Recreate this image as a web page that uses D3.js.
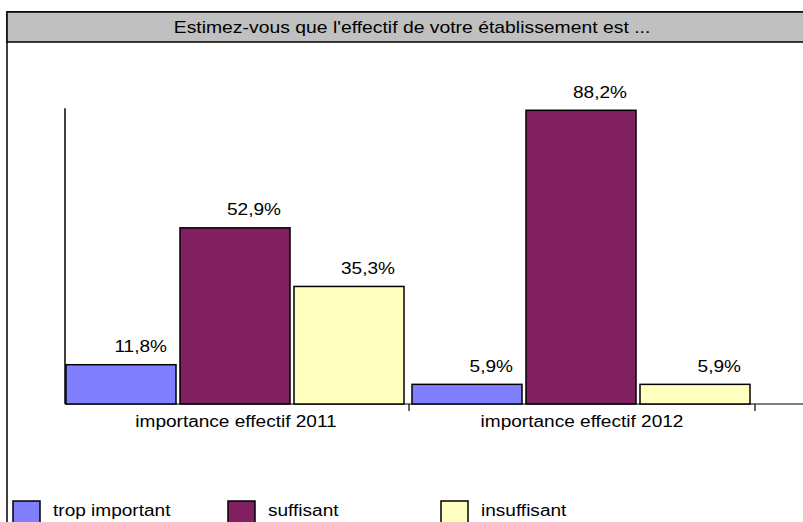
<!DOCTYPE html>
<html><head><meta charset="utf-8">
<script src="https://cdn.jsdelivr.net/npm/d3@7"></script>
<style>body{margin:0;background:#fff}svg{display:block}text{font-family:"Liberation Sans",Arial,sans-serif;fill:#000}</style>
</head><body><svg id="c" width="803" height="522"></svg>
<script>
const title = "Estimez-vous que l'effectif de votre établissement est ...";
const categories = ["importance effectif 2011", "importance effectif 2012"];
const seriesNames = ["trop important", "suffisant", "insuffisant"];
const seriesColors = ["#8080ff", "#802060", "#ffffc0"];
const values2011 = [11.8, 52.9, 35.3];
const values2012 = [5.9, 88.2, 5.9];
const valueLabels2011 = ["11,8%", "52,9%", "35,3%"];
const valueLabels2012 = ["5,9%", "88,2%", "5,9%"];

const data = categories.map((c, i) => ({
  cat: c,
  vals: (i === 0 ? values2011 : values2012).map((v, j) => ({
    s: seriesNames[j], v, label: (i === 0 ? valueLabels2011 : valueLabels2012)[j]
  }))
}));

const svg = d3.select("#c");
const W = 803, H = 522;
let SX = 1.19;
function placeText(sel, fx, fy) {
  const sx = SX;
  sel.attr("x", 0).attr("y", 0)
    .attr("transform", (d, i) => `translate(${fx(d, i)},${fy(d, i)}) scale(${sx},1)`);
}

// frame + title band
svg.append("rect").attr("x", 7).attr("y", 12).attr("width", W + 20).attr("height", H + 20)
  .attr("fill", "#fff").attr("stroke", "#000").attr("stroke-width", 1.5);
svg.append("rect").attr("x", 7).attr("y", 12).attr("width", W + 20).attr("height", 30)
  .attr("fill", "#c0c0c0").attr("stroke", "#000").attr("stroke-width", 1.5);
SX = 1.21;
svg.append("text").attr("text-anchor", "middle").attr("font-size", 16).text(title)
  .call(placeText, () => 412, () => 33);
SX = 1.19;

// scales
const x0 = d3.scaleBand().domain(categories).range([63, 755]);
const x1 = d3.scaleBand().domain(seriesNames).range([3, 345]);
const y = d3.scaleLinear().domain([0, 100]).range([404, 71]);
const color = d3.scaleOrdinal().domain(seriesNames).range(seriesColors);
const barW = x1.bandwidth() - 4;

// axes lines
svg.append("line").attr("x1", 65).attr("x2", 65).attr("y1", y(88.8)).attr("y2", y(0))
  .attr("stroke", "#000").attr("stroke-width", 1.5);
svg.append("line").attr("x1", 65).attr("x2", W).attr("y1", y(0)).attr("y2", y(0))
  .attr("stroke", "#000").attr("stroke-width", 1.2);
const tickXs = categories.map(c => x0(c) + x0.bandwidth());
svg.selectAll("line.tick").data(tickXs).join("line")
  .attr("x1", d => d).attr("x2", d => d).attr("y1", y(0)).attr("y2", y(0) + 7)
  .attr("stroke", "#000").attr("stroke-width", 1.2);

const gw = x0.bandwidth();
const groups = svg.selectAll("g.grp").data(data).join("g")
  .attr("transform", d => `translate(${x0(d.cat)},0)`);
groups.selectAll("rect").data(d => d.vals).join("rect")
  .attr("x", d => x1(d.s)).attr("width", barW)
  .attr("y", d => y(d.v)).attr("height", d => y(0) - y(d.v))
  .attr("fill", d => color(d.s)).attr("stroke", "#000").attr("stroke-width", 1.5);
groups.selectAll("text.val").data(d => d.vals).join("text")
  .attr("text-anchor", "end").attr("font-size", 16).text(d => d.label)
  .call(placeText, d => x1(d.s) + barW - 9, d => y(d.v) - 12.5);

// category labels
svg.selectAll("text.cat").data(categories).join("text")
  .attr("text-anchor", "middle").attr("font-size", 16).text(d => d)
  .call(placeText, d => x0(d) + gw / 2, () => 427);

// legend
const legX = [13, 228, 441];
const lg = svg.selectAll("g.leg").data(seriesNames).join("g")
  .attr("transform", (d, i) => `translate(${legX[i]},501)`);
lg.append("rect").attr("width", 27).attr("height", 27).attr("fill", d => color(d))
  .attr("stroke", "#000").attr("stroke-width", 1.5);
lg.append("text").attr("font-size", 16).text(d => d)
  .call(placeText, () => 40, () => 15);
</script></body></html>
